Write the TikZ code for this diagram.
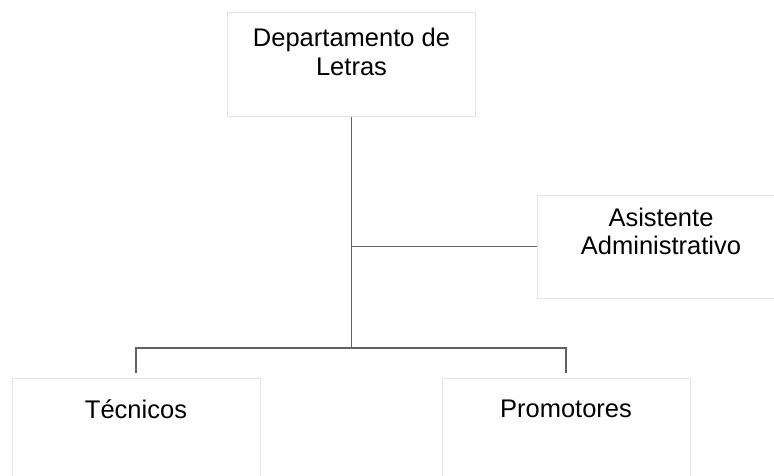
\documentclass[tikz,border=0pt]{standalone}
\usepackage{fontspec}
\setmainfont{Liberation Sans}
\usetikzlibrary{positioning,calc}

\begin{document}
\begin{tikzpicture}[
    x=1pt, y=-1pt,
    font=\fontsize{25.5}{28.5}\selectfont,
    unit/.style={draw=black!11, line width=1pt, rectangle, align=center, minimum width=248pt, inner sep=0pt},
    link/.style={draw=black!62, line width=1.8pt}
]
\useasboundingbox (0,0) rectangle (774,476);

% boxes of the chart
\node[unit, minimum height=104pt, text depth=26pt] (dept) at (351.5,65) {Departamento de\\Letras};
\node[unit, minimum height=103pt, text depth=30pt] (asist) at (661,246.5) {Asistente\\Administrativo};
\node[unit, minimum height=104pt, text depth=42pt] (tec) at (136,430) {Técnicos};
\node[unit, minimum height=104pt, text depth=42pt] (prom) at (566,430) {Promotores};

% junction points of the lines
\coordinate (bus) at (dept.south |- 0,348);
\coordinate (tecdrop) at (tec.north |- 0,373);
\coordinate (promdrop) at (prom.north |- 0,373);

\draw[link] (dept.south) -- (bus);
\draw[link] (dept.south |- asist.west) -- (asist.west);
\draw[link] (tecdrop) -- (tecdrop |- bus) -- (promdrop |- bus) -- (promdrop);

\end{tikzpicture}
\end{document}
